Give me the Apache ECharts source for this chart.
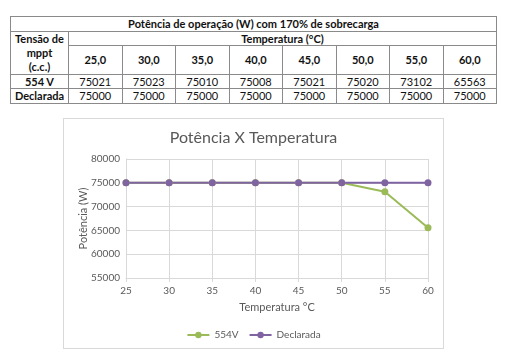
<!DOCTYPE html>
<html>
<head>
<meta charset="utf-8">
<script src="https://cdn.jsdelivr.net/npm/echarts@6/dist/echarts.min.js"></script>
<style>
  html, body { margin: 0; padding: 0; background: #fff; width: 512px; height: 357px; overflow: hidden; }
  #tbl { position: absolute; left: 10px; top: 16px; width: 487px; border-collapse: collapse; font-family: Lato, "Noto Sans", sans-serif; font-size: 11px; color: #111; table-layout: fixed; }
  #tbl td { border: 1px solid #8a8a8a; text-align: center; padding: 0; line-height: 12px; }
  #tbl .b { font-weight: bold; }
  #tbl .tall { line-height: 14px; }
  #chart { position: absolute; left: 63px; top: 118px; width: 381px; height: 231px; box-sizing: border-box; border: 1px solid #d9d9d9; }
</style>
</head>
<body>
<table id="tbl"></table>
<div id="chart"></div>
<script>
// ---- data ----
const tableTitle = "Potência de operação (W) com 170% de sobrecarga";
const tempHeader = "Temperatura (°C)";
const firstColHeader = ["Tensão de", "mppt", "(c.c.)"];
const tempLabels = ["25,0", "30,0", "35,0", "40,0", "45,0", "50,0", "55,0", "60,0"];
const temps = [25, 30, 35, 40, 45, 50, 55, 60];
const seriesNames = ["554V", "Declarada"];
const rowLabels = ["554 V", "Declarada"];
const values554 = [75021, 75023, 75010, 75008, 75021, 75020, 73102, 65563];
const valuesDeclarada = [75000, 75000, 75000, 75000, 75000, 75000, 75000, 75000];
const chartTitle = "Potência X Temperatura";
const xName = "Temperatura °C";
const yName = "Potência (W)";

// ---- table ----
const tbl = document.getElementById('tbl');
let html = '<colgroup><col style="width:58px">' + tempLabels.map(() => '<col>').join('') + '</colgroup>';
html += '<tr style="height:15px"><td class="b" colspan="' + (tempLabels.length + 1) + '">' + tableTitle + '</td></tr>';
html += '<tr style="height:14px"><td class="b tall" rowspan="2">' + firstColHeader.join('<br>') + '</td><td class="b" colspan="' + tempLabels.length + '">' + tempHeader + '</td></tr>';
html += '<tr style="height:29px">' + tempLabels.map(t => '<td class="b">' + t + '</td>').join('') + '</tr>';
html += '<tr style="height:14px"><td class="b">' + rowLabels[0] + '</td>' + values554.map(v => '<td>' + v + '</td>').join('') + '</tr>';
html += '<tr style="height:15px"><td class="b">' + rowLabels[1] + '</td>' + valuesDeclarada.map(v => '<td>' + v + '</td>').join('') + '</tr>';
tbl.innerHTML = html;

// ---- chart ----
const chart = echarts.init(document.getElementById('chart'), null, { renderer: 'canvas' });
const font = 'Lato, "Noto Sans", sans-serif';
const gridColor = '#d9d9d9';
const textColor = '#595959';
chart.setOption({
  animation: false,
  backgroundColor: '#fff',
  textStyle: { fontFamily: font },
  title: {
    text: chartTitle, left: 'center', top: 6,
    textStyle: { fontFamily: font, fontSize: 16, fontWeight: 'normal', color: textColor }
  },
  grid: { left: 62, right: 15, top: 40, bottom: 70, containLabel: false, outerBoundsMode: 'none' },
  xAxis: {
    type: 'value', min: 25, max: 60, interval: 5,
    name: xName, nameLocation: 'middle', nameGap: 24, nameMoveOverlap: false,
    nameTextStyle: { fontFamily: font, fontSize: 11, color: textColor },
    axisLine: { show: true, lineStyle: { color: gridColor } },
    axisTick: { show: true, length: 4, lineStyle: { color: gridColor } },
    axisLabel: { fontFamily: font, fontSize: 10, color: textColor, margin: 8 },
    splitLine: { show: true, lineStyle: { color: gridColor } }
  },
  yAxis: {
    type: 'value', min: 55000, max: 80000, interval: 5000,
    name: yName, nameLocation: 'middle', nameGap: 37, nameRotate: 90, nameMoveOverlap: false,
    nameTextStyle: { fontFamily: font, fontSize: 11, color: textColor },
    axisLine: { show: true, lineStyle: { color: gridColor } },
    axisTick: { show: false },
    axisLabel: { fontFamily: font, fontSize: 10, color: textColor, margin: 6, formatter: v => String(v) },
    splitLine: { show: true, lineStyle: { color: gridColor } }
  },
  legend: {
    bottom: 3, left: 'center', itemWidth: 22, itemHeight: 8, itemGap: 10,
    textStyle: { fontFamily: font, fontSize: 10, color: textColor },
    data: seriesNames
  },
  series: [
    {
      name: seriesNames[0], type: 'line',
      data: temps.map((t, i) => [t, values554[i]]),
      symbol: 'circle', symbolSize: 7,
      lineStyle: { color: '#9BBB59', width: 2 },
      itemStyle: { color: '#9BBB59' }
    },
    {
      name: seriesNames[1], type: 'line',
      data: temps.map((t, i) => [t, valuesDeclarada[i]]),
      symbol: 'circle', symbolSize: 7,
      lineStyle: { color: '#8064A2', width: 2 },
      itemStyle: { color: '#8064A2' }
    }
  ]
});
</script>
</body>
</html>
